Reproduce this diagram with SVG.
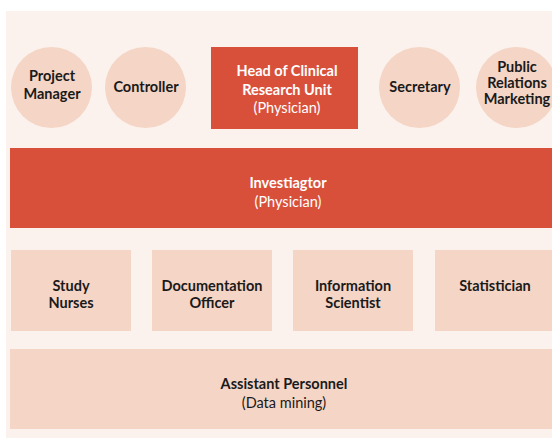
<svg xmlns="http://www.w3.org/2000/svg" width="552" height="440" viewBox="0 0 552 440">
<style>
.t{font-family:Lato,"Open Sans","Liberation Sans",sans-serif;font-size:14.5px;font-weight:bold;text-anchor:middle;fill:#1a1a1a}
.w{fill:#ffffff}
.n{font-weight:normal}
.lt{fill:#F5D5C5}
.rd{fill:#D9503A}
</style>
<rect x="0" y="0" width="552" height="440" fill="#ffffff"/>
<rect x="6" y="11" width="546" height="427" fill="#FBF2EE"/>
<g id="project-manager"><circle class="lt" cx="51.5" cy="87.5" r="40.5"/><text class="t" x="52" y="81">Project</text><text class="t" x="52" y="99">Manager</text></g>
<g id="controller"><circle class="lt" cx="145.5" cy="87.5" r="40.5"/><text class="t" x="146" y="92">Controller</text></g>
<g id="head"><rect class="rd" x="211" y="47" width="147" height="82"/><text class="t w" x="287" y="76">Head of Clinical</text><text class="t w" x="287" y="95">Research Unit</text><text class="t w n" x="287" y="113">(Physician)</text></g>
<g id="secretary"><circle class="lt" cx="419.5" cy="87.5" r="40.5"/><text class="t" x="420" y="92">Secretary</text></g>
<g id="public-relations"><circle class="lt" cx="516.5" cy="87.5" r="40.5"/><text class="t" x="517" y="72">Public</text><text class="t" x="517" y="88">Relations</text><text class="t" x="517" y="104">Marketing</text></g>
<g id="investigator"><rect class="rd" x="10" y="148" width="556" height="80"/><text class="t w" x="288" y="188">Investiagtor</text><text class="t w n" x="288" y="207">(Physician)</text></g>
<g id="study-nurses"><rect class="lt" x="11" y="250" width="120" height="81"/><text class="t" x="71" y="291">Study</text><text class="t" x="71" y="308">Nurses</text></g>
<g id="documentation-officer"><rect class="lt" x="152" y="250" width="120" height="81"/><text class="t" x="212" y="291">Documentation</text><text class="t" x="212" y="308">Officer</text></g>
<g id="information-scientist"><rect class="lt" x="293" y="250" width="120" height="81"/><text class="t" x="353" y="291">Information</text><text class="t" x="353" y="308">Scientist</text></g>
<g id="statistician"><rect class="lt" x="435" y="250" width="120" height="81"/><text class="t" x="495" y="291">Statistician</text></g>
<g id="assistant"><rect class="lt" x="10" y="349" width="556" height="80"/><text class="t" x="284" y="389">Assistant Personnel</text><text class="t n" x="284" y="408">(Data mining)</text></g>
<g id="connectors"></g>
</svg>
